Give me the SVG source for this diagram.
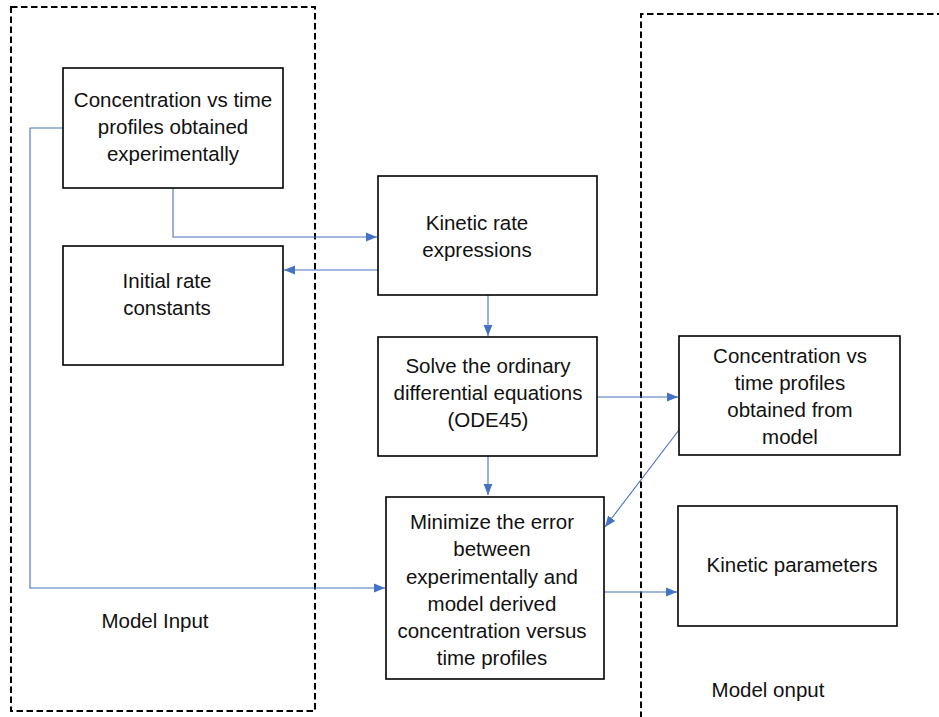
<svg xmlns="http://www.w3.org/2000/svg" width="939" height="717" viewBox="0 0 939 717">
<style>
  .box{fill:#fff;stroke:#000;stroke-width:1.6}
  .dash{fill:none;stroke:#000;stroke-width:2;stroke-dasharray:6.5 3.5}
  .t{font-family:"Liberation Sans",Arial,sans-serif;font-size:20.5px;fill:#111;text-anchor:middle}
  .c{fill:none;stroke:#4472C4;stroke-width:1.1}
</style>
<defs>
  <marker id="ah" viewBox="0 0 10 10" refX="10" refY="5" markerWidth="11" markerHeight="11" markerUnits="userSpaceOnUse" orient="auto">
    <path d="M0,1 L10,5 L0,9 Z" fill="#4472C4"/>
  </marker>
</defs>
<g id="regions">
  <path class="dash" d="M11,7 H315 V711 H11 Z"/>
  <path class="dash" d="M641,718 V14 H945"/>
  <text class="t" x="155" y="628">Model Input</text>
  <text class="t" x="768" y="697">Model onput</text>
</g>
<g id="connectors">
  <path class="c" d="M173,188 V237 H377" marker-end="url(#ah)"/>
  <path class="c" d="M378,270 H284" marker-end="url(#ah)"/>
  <path class="c" d="M63,128 H30 V588 H385" marker-end="url(#ah)"/>
  <path class="c" d="M488,295 V336" marker-end="url(#ah)"/>
  <path class="c" d="M488,456 V495" marker-end="url(#ah)"/>
  <path class="c" d="M597,397 H678" marker-end="url(#ah)"/>
  <path class="c" d="M679,430 L605,527" marker-end="url(#ah)"/>
  <path class="c" d="M604,592 H677" marker-end="url(#ah)"/>
</g>
<g id="n1">
  <rect class="box" x="63" y="68" width="220" height="120"/>
  <text class="t" x="173" y="107">Concentration vs time</text>
  <text class="t" x="173" y="134">profiles obtained</text>
  <text class="t" x="173" y="161">experimentally</text>
</g>
<g id="n2">
  <rect class="box" x="63" y="246" width="220" height="119"/>
  <text class="t" x="167" y="288">Initial rate</text>
  <text class="t" x="167" y="315">constants</text>
</g>
<g id="n3">
  <rect class="box" x="378" y="176" width="219" height="119"/>
  <text class="t" x="477" y="230">Kinetic rate</text>
  <text class="t" x="477" y="257">expressions</text>
</g>
<g id="n4">
  <rect class="box" x="378" y="337" width="219" height="119"/>
  <text class="t" x="488" y="373">Solve the ordinary</text>
  <text class="t" x="488" y="400">differential equations</text>
  <text class="t" x="488" y="427">(ODE45)</text>
</g>
<g id="n5">
  <rect class="box" x="386" y="497" width="218" height="182"/>
  <text class="t" x="492" y="529">Minimize the error</text>
  <text class="t" x="492" y="556">between</text>
  <text class="t" x="492" y="584">experimentally and</text>
  <text class="t" x="492" y="611">model derived</text>
  <text class="t" x="492" y="638">concentration versus</text>
  <text class="t" x="492" y="665">time profiles</text>
</g>
<g id="n6">
  <rect class="box" x="679" y="336" width="221" height="119"/>
  <text class="t" x="790" y="363">Concentration vs</text>
  <text class="t" x="790" y="390">time profiles</text>
  <text class="t" x="790" y="417">obtained from</text>
  <text class="t" x="790" y="444">model</text>
</g>
<g id="n7">
  <rect class="box" x="678" y="506" width="219" height="120"/>
  <text class="t" x="792" y="572">Kinetic parameters</text>
</g>
</svg>
